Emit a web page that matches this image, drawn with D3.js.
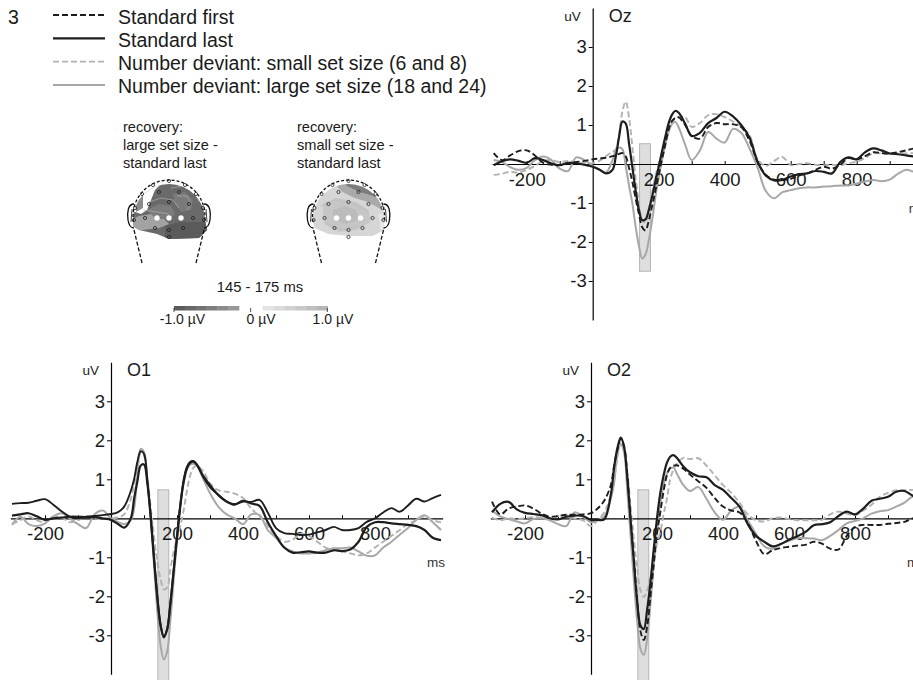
<!DOCTYPE html>
<html><head><meta charset="utf-8">
<script src="https://cdn.jsdelivr.net/npm/d3@7"></script>
<style>
body{margin:0;background:#fff;}
svg{display:block;font-family:"Liberation Sans",Arial,sans-serif;}
</style></head><body>
<svg id="chart" width="913" height="680"></svg>
<script>
// ---------- DATA ----------
const times = [-300,-275,-250,-225,-200,-175,-150,-125,-100,-75,-50,-25,0,
  20,40,60,70,80,90,100,110,120,130,140,150,160,170,180,190,200,210,220,230,240,250,260,
  280,300,325,350,375,400,425,450,475,500,525,550,575,600,625,650,675,700,725,750,775,800,825,850,875,900,925,950,975,1000];

const ozStdFirst = [0.28,0.1,0.22,0.33,0.35,0.22,0.03,-0.02,-0.03,0.02,0.05,0.08,0.12,
  0.14,0.16,0.2,0.22,0.26,0.28,0.2,-0.1,-0.45,-0.88,-1.28,-1.62,-1.7,-1.45,-1.08,-0.68,-0.28,0.12,0.5,0.88,1.1,1.18,1.2,
  1.0,0.72,0.65,0.95,1.05,1.02,1.02,0.95,0.6,0.05,-0.28,-0.4,-0.41,-0.38,-0.3,-0.24,-0.15,-0.07,-0.12,-0.02,0.15,0.12,0.2,0.3,0.28,0.27,0.3,0.35,0.4,0.4];
const ozStdLast = [-0.03,0.07,0.12,0.08,0.03,0.15,0.1,0.01,-0.03,0.03,0.02,-0.02,-0.07,
  -0.14,-0.24,-0.15,0.19,0.7,1.09,1.04,0.53,-0.07,-0.67,-1.18,-1.44,-1.42,-1.18,-0.84,-0.45,-0.07,0.32,0.7,1.04,1.26,1.36,1.32,
  1.04,0.72,0.8,1.05,1.18,1.34,1.22,1.0,0.68,0.05,-0.3,-0.42,-0.41,-0.32,-0.26,-0.24,-0.18,-0.2,-0.24,0.05,0.17,0.12,0.3,0.4,0.35,0.27,0.25,0.22,0.19,0.18];
const ozSmall = [-0.28,-0.25,-0.2,-0.22,-0.15,-0.05,0.08,0.1,0.05,0.08,0.05,0.02,0.02,
  0.08,0.2,0.32,0.38,0.75,1.35,1.6,1.2,0.45,-0.35,-1.0,-1.45,-1.5,-1.15,-0.75,-0.3,0.0,0.3,0.6,0.85,1.05,1.17,1.2,
  1.2,0.95,1.05,1.25,1.28,1.2,1.09,0.95,0.74,0.12,-0.05,0.08,0.18,-0.03,0.0,0.02,-0.02,-0.03,-0.02,-0.03,0.02,0.06,0.15,0.27,0.27,0.25,0.27,0.27,0.28,0.28];
const ozLarge = [0.1,0.05,-0.08,-0.15,-0.1,0.1,0.19,0.1,-0.12,-0.18,0.17,0.1,-0.05,
  -0.15,-0.22,0.1,0.36,0.42,0.38,-0.05,-0.55,-1.0,-1.6,-2.1,-2.42,-2.32,-1.95,-1.45,-0.85,-0.35,0.1,0.48,0.82,1.02,1.08,0.95,
  0.5,0.1,0.35,0.82,0.65,0.55,0.9,0.8,0.4,-0.1,-0.7,-0.88,-0.72,-0.67,-0.62,-0.6,-0.6,-0.58,-0.57,-0.55,-0.55,-0.5,-0.45,-0.41,-0.44,-0.4,-0.25,-0.15,-0.2,-0.2];

const o1StdFirst = [0.37,0.39,0.4,0.45,0.49,0.35,0.18,0.04,0.0,0.04,0.06,0.08,0.11,
  0.15,0.3,0.7,1.0,1.45,1.72,1.65,1.0,0.1,-0.95,-1.95,-2.7,-3.06,-2.85,-2.15,-1.3,-0.45,0.35,0.98,1.32,1.45,1.47,1.38,
  1.05,0.8,0.6,0.43,0.36,0.43,0.42,0.47,0.15,-0.25,-0.38,-0.4,-0.43,-0.42,-0.36,-0.3,-0.22,-0.3,-0.3,-0.25,-0.09,0.0,0.15,0.26,0.17,0.33,0.5,0.43,0.52,0.6];
const o1StdLast = [0.07,0.1,0.13,0.05,-0.04,0.0,0.02,0.04,0.04,0.03,0.03,0.0,-0.04,
  -0.14,-0.24,0.0,0.5,0.95,1.35,1.38,0.9,0.05,-1.0,-2.0,-2.75,-3.02,-2.85,-2.2,-1.35,-0.5,0.3,0.92,1.28,1.42,1.45,1.38,
  1.08,0.85,0.6,0.43,0.35,0.45,0.38,0.32,-0.1,-0.45,-0.75,-0.88,-0.87,-0.85,-0.88,-0.88,-0.82,-0.84,-0.8,-0.6,-0.22,-0.1,-0.1,-0.13,-0.15,-0.17,-0.2,-0.3,-0.5,-0.56];
const o1Small = [-0.15,-0.05,0.05,-0.05,-0.1,0.05,0.02,-0.1,-0.05,0.05,0.0,-0.02,0.0,
  0.02,0.1,0.5,0.85,1.3,1.68,1.6,1.05,0.3,-0.45,-1.1,-1.55,-1.82,-1.78,-1.3,-0.85,-0.5,-0.2,0.2,0.7,1.1,1.3,1.35,
  1.2,0.9,0.72,0.68,0.63,0.52,0.25,0.05,-0.2,-0.45,-0.6,-0.55,-0.4,-0.45,-0.6,-0.75,-0.8,-0.85,-0.9,-0.95,-0.9,-0.75,-0.6,-0.45,-0.3,-0.15,-0.05,0.05,-0.05,-0.1];
const o1Large = [-0.17,0.04,-0.15,-0.2,-0.13,0.05,0.13,0.0,-0.15,-0.25,0.1,0.2,0.0,
  -0.09,-0.15,-0.05,0.25,1.1,1.78,1.7,1.0,0.05,-1.15,-2.35,-3.25,-3.62,-3.42,-2.6,-1.57,-0.55,0.35,0.92,1.25,1.38,1.4,1.35,
  1.0,0.64,0.3,0.1,0.0,-0.15,0.1,0.08,-0.3,-0.5,-0.75,-0.85,-0.9,-0.9,-0.88,-0.82,-0.77,-0.77,-0.75,-0.85,-0.96,-0.95,-0.75,-0.6,-0.42,-0.25,-0.04,0.08,-0.1,-0.3];

const o2StdFirst = [0.43,0.1,0.25,0.3,0.33,0.25,0.12,0.04,0.06,0.09,0.09,0.1,0.13,
  0.25,0.45,0.85,1.35,1.75,2.03,1.85,1.1,0.0,-1.05,-2.1,-2.9,-3.12,-2.78,-2.0,-1.2,-0.4,0.15,0.7,1.1,1.3,1.35,1.36,
  1.27,1.12,0.95,0.78,0.52,0.3,0.2,0.15,-0.12,-0.58,-0.92,-0.82,-0.76,-0.73,-0.7,-0.68,-0.6,-0.65,-0.78,-0.8,-0.45,-0.22,-0.17,-0.17,-0.17,-0.14,-0.12,-0.09,0.0,0.02];
const o2StdLast = [0.15,0.37,0.42,0.23,0.14,0.11,0.08,0.0,-0.03,0.04,0.07,0.06,-0.04,
  -0.04,-0.03,0.6,1.3,1.8,2.07,1.85,1.05,-0.05,-1.1,-2.15,-2.75,-2.84,-2.35,-1.65,-0.8,0.0,0.65,1.1,1.42,1.58,1.62,1.55,
  1.33,1.18,1.08,1.05,0.85,0.73,0.52,0.3,-0.15,-0.45,-0.6,-0.72,-0.66,-0.55,-0.46,-0.35,-0.18,-0.15,-0.1,0.06,0.17,0.1,0.25,0.45,0.5,0.55,0.68,0.7,0.58,0.5];
const o2Small = [0.02,-0.05,0.0,-0.02,0.0,0.03,0.02,-0.03,0.05,0.08,0.0,-0.05,-0.2,
  -0.05,0.15,0.6,1.0,1.55,1.95,1.8,1.2,0.3,-0.55,-1.3,-1.85,-2.02,-1.85,-1.55,-1.1,-0.65,-0.35,0.1,0.5,1.0,1.25,1.4,
  1.55,1.52,1.54,1.35,1.1,0.85,0.65,0.4,0.1,-0.05,-0.08,0.0,0.02,-0.02,-0.05,-0.05,-0.05,-0.04,0.1,0.17,0.12,0.08,0.2,0.35,0.55,0.65,0.72,0.72,0.73,0.73];
const o2Large = [0.2,0.05,-0.02,-0.08,-0.13,-0.02,0.0,-0.05,-0.15,-0.2,0.15,0.05,-0.1,
  -0.05,0.05,0.5,0.9,1.65,1.9,1.7,0.7,-0.45,-1.6,-2.65,-3.35,-3.5,-3.1,-2.2,-1.2,-0.3,0.4,0.85,1.15,1.28,1.3,1.15,
  0.85,0.7,0.8,0.5,0.15,-0.04,0.2,0.3,-0.05,-0.4,-0.72,-0.78,-0.66,-0.58,-0.51,-0.51,-0.52,-0.56,-0.45,-0.3,-0.13,-0.07,0.0,0.12,0.18,0.21,0.3,0.4,0.56,0.6];

const panelNames = ['Oz','O1','O2'];
const windowMs = [142, 175];
const rectTopUv = [0.52, 0.73, 0.73];
const rectBottomUv = [-2.75, -4.2, -4.2];
const xTickValues = [-200,-100,100,200,300,400,500,600,700,800,900];
const xLabelValues = [-200,200,400,600,800];
const yTickValues = [-3,-2,-1,1,2,3];
const legendLabels = ['Standard first','Standard last','Number deviant: small set size (6 and 8)','Number deviant: large set size (18 and 24)'];
const legendKeys = ['first','last','small','large'];
const mapTitles = [['recovery:','large set size -','standard last'],['recovery:','small set size -','standard last']];
const windowLabel = '145 - 175 ms';
const colorbarLabels = ['-1.0 µV','0 µV','1.0 µV'];

// ---------- STYLE / LAYOUT ----------
const styles = {
  large:{stroke:'#a7a7a7', width:2.0, dash:null},
  small:{stroke:'#b2b2b2', width:1.9, dash:'6,3'},
  first:{stroke:'#1d1d1d', width:1.9, dash:'6,3'},
  last:{stroke:'#1d1d1d', width:2.2, dash:null}
};
const PX_MS = 0.33, PX_UV = 39;
const panels = [
  {x0:592.7, y0:164, data:{first:ozStdFirst,last:ozStdLast,small:ozSmall,large:ozLarge}, firstSolid:false},
  {x0:111, y0:518.3, data:{first:o1StdFirst,last:o1StdLast,small:o1Small,large:o1Large}, firstSolid:true},
  {x0:591, y0:518.3, data:{first:o2StdFirst,last:o2StdLast,small:o2Small,large:o2Large}, firstSolid:false}
];

const svg = d3.select('#chart');
svg.append('rect').attr('width',913).attr('height',680).attr('fill','#fff');

panels.forEach((p,i)=>{
  const x = d3.scaleLinear().domain([-305,1005]).range([p.x0-305*PX_MS, p.x0+1005*PX_MS]);
  const y = d3.scaleLinear().domain([-4,4]).range([p.y0+4*PX_UV, p.y0-4*PX_UV]);
  const g = svg.append('g');
  // time window rect
  g.append('rect')
    .attr('x', x(windowMs[0])).attr('width', x(windowMs[1])-x(windowMs[0]))
    .attr('y', y(rectTopUv[i])).attr('height', y(rectBottomUv[i])-y(rectTopUv[i]))
    .attr('fill','#dedede').attr('stroke','#b5b5b5').attr('stroke-width',1);
  // x axis
  const xa = g.append('g').attr('transform',`translate(0,${y(0)})`)
    .call(d3.axisBottom(x).tickValues(xTickValues)
      .tickFormat(d=> xLabelValues.includes(d)? String(d) : '')
      .tickSizeInner(-3).tickSizeOuter(0).tickPadding(9));
  xa.attr('font-family',null).attr('font-size',null);
  xa.select('.domain').attr('stroke','#000').attr('stroke-width',1.2);
  xa.selectAll('.tick line').attr('stroke','#000');
  xa.selectAll('.tick text').attr('font-size',18.5).attr('fill','#1a1a1a');
  // y axis
  const ya = g.append('g').attr('transform',`translate(${x(0)},0)`)
    .call(d3.axisLeft(y).tickValues(yTickValues).tickFormat(d=>String(d))
      .tickSizeInner(4).tickSizeOuter(0).tickPadding(2));
  ya.attr('font-family',null).attr('font-size',null);
  ya.select('.domain').attr('stroke','#000').attr('stroke-width',1.2);
  ya.selectAll('.tick line').attr('stroke','#000');
  ya.selectAll('.tick text').attr('font-size',18.5).attr('fill','#1a1a1a');
  // labels
  g.append('text').attr('x',x(0)-12).attr('y',y(0)-143).attr('text-anchor','end')
    .attr('font-size',13.5).attr('fill','#222').text('uV');
  g.append('text').attr('x',x(0)+16).attr('y',y(0)-142)
    .attr('font-size',18).attr('fill','#1a1a1a').text(panelNames[i]);
  g.append('text').attr('x',x(0)+316).attr('y',y(0)+49)
    .attr('font-size',13.5).attr('fill','#333').text('ms');
  // lines
  const line = d3.line().x((d,j)=>x(times[j])).y(d=>y(d)).curve(d3.curveCatmullRom.alpha(0.5));
  ['large','small','first','last'].forEach(k=>{
    const st = styles[k];
    const dash = (k==='first' && p.firstSolid) ? null : st.dash;
    g.append('path').datum(p.data[k]).attr('d',line)
      .attr('fill','none').attr('stroke',st.stroke).attr('stroke-width',st.width)
      .attr('stroke-dasharray',dash).attr('stroke-linejoin','round');
  });
});

// ---------- LEGEND ----------
const lg = svg.append('g');
lg.append('text').attr('x',8).attr('y',23.5).attr('font-size',19.5).attr('fill','#1a1a1a').text('3');
legendKeys.forEach((k,i)=>{
  const yy = 15 + i*23.3;
  const st = styles[k];
  lg.append('line').attr('x1',53).attr('x2',105).attr('y1',yy).attr('y2',yy)
    .attr('stroke',st.stroke).attr('stroke-width',st.width).attr('stroke-dasharray',st.dash);
  lg.append('text').attr('x',118).attr('y',23.5+i*23.3).attr('font-size',19.5).attr('fill','#1a1a1a').text(legendLabels[i]);
});

// ---------- TOPOMAPS ----------
const heads = [
  {cx:169, cy:216, base:'#6a6a6a',
   shape:[[-36,4],[36,4],[38,14],[30,22],[0,23],[-12,18],[-30,14],[-36,10]],
   regions:[
    {f:'#ffffff', pts:[[-40,-42],[-6,-42],[-8,-32],[-14,-26],[-18,-16],[-22,-6],[-28,-2],[-34,-4],[-40,-2]]},
    {f:'#8a8a8a', pts:[[-34,-20],[-26,-24],[-26,-8],[-33,-4]]},
    {f:'#a3a3a3', pts:[[-40,4],[-30,0],[-18,-2],[-6,2],[0,8],[-10,12],[-26,14],[-40,14]]},
    {f:'#7c7c7c', pts:[[-22,-6],[-10,-12],[2,-10],[6,-2],[0,4],[-14,2]]},
    {f:'#7a7a7a', pts:[[4,-22],[16,-24],[24,-16],[22,-6],[12,-4],[6,-12]]},
    {f:'#5a5a5a', pts:[[-4,10],[10,6],[40,6],[40,28],[-4,28]]}
   ],
   contours:[[[-20,-14],[-8,-18],[4,-16],[10,-8]],[[8,-20],[18,-20],[22,-12],[18,-6]],[[-26,-6],[-12,-4],[0,-2]],[[2,-28],[14,-30],[26,-24],[30,-14]]]},
  {cx:348.5, cy:216, base:'#d6d6d6',
   shape:[[-36,4],[36,4],[36,14],[24,20],[0,20],[-20,18],[-34,12]],
   regions:[
    {f:'#ffffff', pts:[[-40,-42],[-10,-42],[-14,-32],[-24,-24],[-32,-14],[-40,-10]]},
    {f:'#7c7c7c', pts:[[-10,-42],[40,-42],[40,-12],[34,-14],[24,-20],[10,-24],[-2,-30],[-8,-36]]},
    {f:'#a9a9a9', pts:[[-8,-36],[-2,-30],[10,-24],[24,-20],[34,-14],[40,-12],[40,-6],[30,-8],[20,-14],[6,-18],[-6,-24],[-12,-30]]},
    {f:'#c6c6c6', pts:[[-26,-12],[-12,-18],[8,-14],[20,-6],[22,6],[8,14],[-10,16],[-24,8]]},
    {f:'#bcbcbc', pts:[[-16,-6],[-4,-10],[8,-6],[10,4],[-2,8],[-14,4]]},
    {f:'#e6e6e6', pts:[[30,-2],[40,-4],[40,16],[32,14]]}
   ],
   contours:[[[-28,-10],[-14,-16],[6,-12],[20,-4]],[[-22,8],[-6,14],[10,10]]]}
];
const electrodes = [[0,-35],[-16,-31],[16,-31],[-27,-22],[-10,-24],[10,-24],[27,-22],[-34,-8],[-20,-12],[0,-14],[20,-12],[34,-8],
  [-35,4],[-24,2],[24,2],[35,4],[-14,12],[0,14],[14,12],[0,21]];
const whiteDots = [[-12,2],[0,2],[12,2]];
const R = 36;

heads.forEach((h,i)=>{
  const g = svg.append('g').attr('transform',`translate(${h.cx},${h.cy})`);
  const s = h.shape;
  const shapePath = `M${s[0][0]},${s[0][1]} A${R},${R} 0 1 1 ${s[1][0]},${s[1][1]} ` +
     s.slice(2).map(q=>`L${q[0]},${q[1]}`).join(' ') + ' Z';
  svg.append('defs').append('clipPath').attr('id','hc'+i).append('path').attr('d',shapePath);
  const fg = g.append('g').attr('clip-path',`url(#hc${i})`);
  fg.append('rect').attr('x',-45).attr('y',-45).attr('width',90).attr('height',90).attr('fill',h.base);
  h.regions.forEach(r=> fg.append('polygon').attr('points',r.pts.map(q=>q.join(',')).join(' ')).attr('fill',r.f));
  h.contours.forEach(c=> fg.append('polyline').attr('points',c.map(q=>q.join(',')).join(' '))
     .attr('fill','none').attr('stroke','#b8b8b8').attr('stroke-width',0.6));
  // outline
  g.append('path').attr('d',`M-35.5,6 A${R},${R} 0 1 1 35.5,6`).attr('fill','none')
    .attr('stroke','#111').attr('stroke-width',1.3).attr('stroke-dasharray','3,2');
  // ears
  g.append('path').attr('d','M-35,-12 C-41,-12 -42,-4 -41,4 C-40,10 -38,12 -35,12').attr('fill','none').attr('stroke','#111').attr('stroke-width',1.3);
  g.append('path').attr('d','M-37,-7 L-38,6').attr('fill','none').attr('stroke','#111').attr('stroke-width',0.8);
  g.append('path').attr('d','M35,-12 C41,-12 42,-4 41,4 C40,10 38,12 35,12').attr('fill','none').attr('stroke','#111').attr('stroke-width',1.3);
  g.append('path').attr('d','M37,-7 L38,6').attr('fill','none').attr('stroke','#111').attr('stroke-width',0.8);
  // neck
  g.append('path').attr('d','M-35,14 L-27,47').attr('stroke','#111').attr('stroke-width',1.3).attr('stroke-dasharray','4,2');
  g.append('path').attr('d','M35,14 L27,47').attr('stroke','#111').attr('stroke-width',1.3).attr('stroke-dasharray','4,2');
  electrodes.forEach(e=> g.append('circle').attr('cx',e[0]).attr('cy',e[1]).attr('r',1.6)
    .attr('fill','none').attr('stroke','#222').attr('stroke-width',0.8));
  whiteDots.forEach(e=> g.append('circle').attr('cx',e[0]).attr('cy',e[1]).attr('r',2.7).attr('fill','#fff'));
});

// titles
const titleX = [123, 297];
mapTitles.forEach((lines,i)=>{
  lines.forEach((t,j)=> svg.append('text').attr('x',titleX[i]).attr('y',132+j*18)
    .attr('font-size',14.6).attr('fill','#1a1a1a').text(t));
});
svg.append('text').attr('x',260).attr('y',292).attr('text-anchor','middle')
  .attr('font-size',14.8).attr('fill','#1a1a1a').text(windowLabel);

// colorbar
const negColors = ['#5c5c5c','#676767','#727272','#7e7e7e','#8a8a8a','#979797'];
const posColors = ['#e3e3e3','#dadada','#d1d1d1','#c8c8c8','#bfbfbf','#b6b6b6'];
const cb = svg.append('g');
const segW = 65/6;
negColors.forEach((c,k)=> cb.append('rect').attr('x',174+k*segW).attr('y',306).attr('width',segW+0.3).attr('height',4.5).attr('fill',c));
posColors.forEach((c,k)=> cb.append('rect').attr('x',262.7+k*segW).attr('y',306).attr('width',segW+0.3).attr('height',4.5).attr('fill',c));
[174, 250.7, 327.3].forEach(xx=> cb.append('line').attr('x1',xx).attr('x2',xx).attr('y1',308).attr('y2',312).attr('stroke','#222').attr('stroke-width',0.8));
const cbLabelX = [182.5, 261, 333];
colorbarLabels.forEach((t,k)=> cb.append('text').attr('x',cbLabelX[k]).attr('y',324).attr('text-anchor','middle')
  .attr('font-size',14).attr('fill','#1a1a1a').text(t));
</script>
</body></html>
